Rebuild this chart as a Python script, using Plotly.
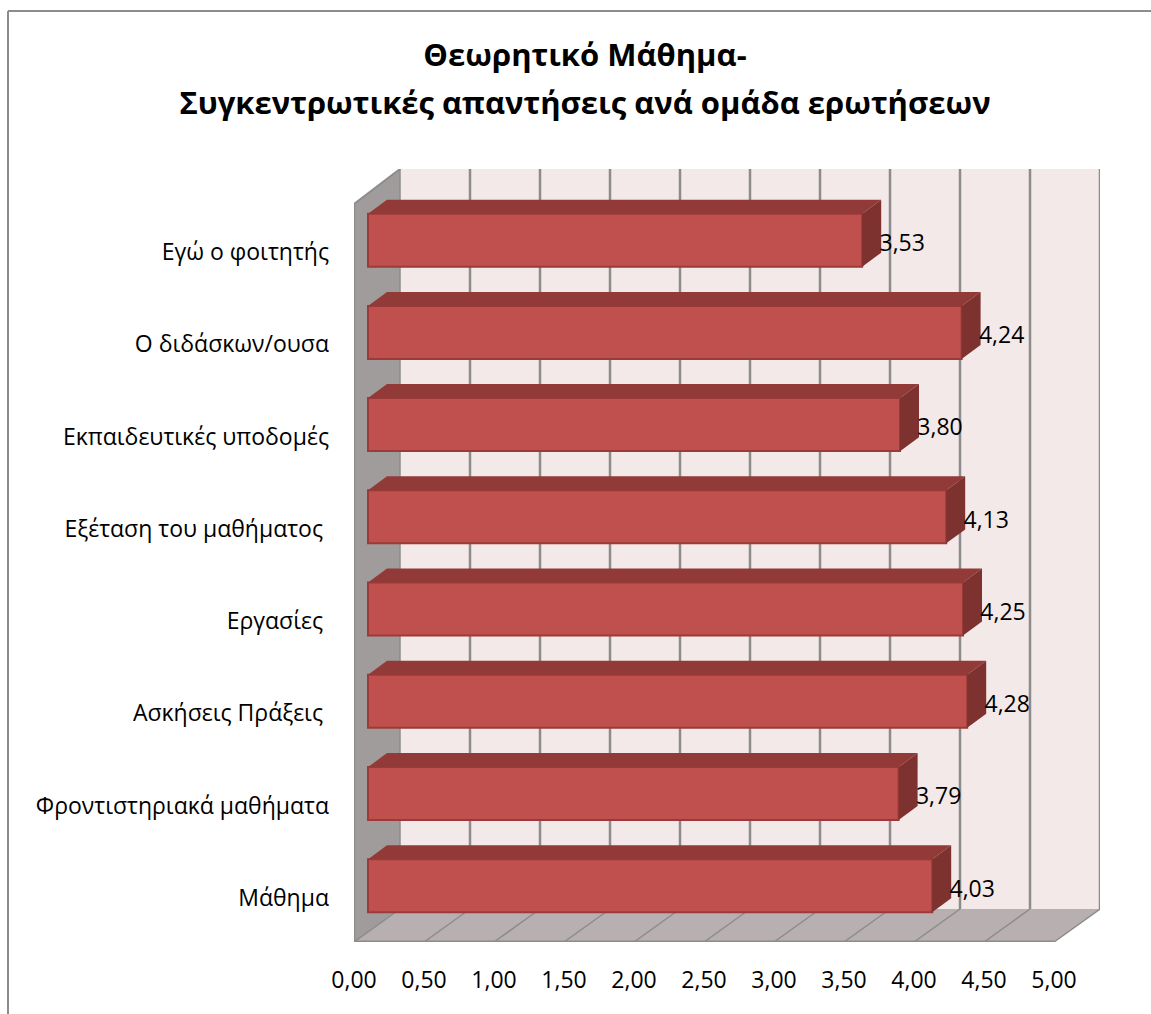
import plotly.graph_objects as go

categories = ["Μάθημα", "Φροντιστηριακά μαθήματα", "Ασκήσεις Πράξεις\u00a0", "Εργασίες\u00a0",
              "Εξέταση του μαθήματος\u00a0", "Εκπαιδευτικές υποδομές", "Ο διδάσκων/ουσα", "Εγώ ο φοιτητής"]
values = [4.03, 3.79, 4.28, 4.25, 4.13, 3.80, 4.24, 3.53]
x_ticks = [0, 0.5, 1, 1.5, 2, 2.5, 3, 3.5, 4, 4.5, 5]
title_lines = ["Θεωρητικό Μάθημα-", "Συγκεντρωτικές απαντήσεις ανά ομάδα ερωτήσεων"]

FONT = "'Open Sans', sans-serif"
TITLE_SIZE = 31
TEXT_SIZE = 23
W, H = 1151, 1014
PX_X = 140.0            # pixels per x unit
PX_Y = 92.25            # pixels per category
WALL_DX, WALL_TOP, FLOOR_DY = 46 / PX_X, 35 / PX_Y, 33 / PX_Y   # depth of the box in data units
BAR_BASE, BAR_SHIFT = 14 / PX_X, 10 / PX_Y  # bar's distance from the front plane
BAR_DX, BAR_DY = 19 / PX_X, 14 / PX_Y       # bar depth
BAR_W = 53 / PX_Y
LABEL_DX = 40 / PX_X
LABEL_DY = -5 / PX_Y
TICK_DY = -2 / PX_Y

idx = list(range(len(categories)))
y0, y1 = -0.5, 7.5
xmax = 5 + WALL_DX
ytop = y1 + WALL_TOP

GRID = "#8c8c8c"
BACK = "#f4e9e9"
SIDE = "#a09c9c"
FLOOR = "#b8b0b0"
FRONT = "#c0504d"
TOP = "#923a38"
RIGHT = "#7e3230"
EDGE = "#9b3b39"


def poly(xs, ys, fill):
    path = "M " + " L ".join(f"{a},{b}" for a, b in zip(xs, ys)) + " Z"
    return dict(type="path", path=path, xref="x", yref="y", fillcolor=fill,
                line=dict(width=0), layer="below")


def line(x_a, y_a, x_b, y_b, width=2, color=GRID):
    return dict(type="line", x0=x_a, y0=y_a, x1=x_b, y1=y_b, xref="x", yref="y",
                line=dict(color=color, width=width), layer="below")


shapes = [
    poly([WALL_DX, xmax, xmax, WALL_DX], [y0 + FLOOR_DY, y0 + FLOOR_DY, ytop, ytop], BACK),
    poly([0, WALL_DX, WALL_DX, 0], [y1, ytop, y0 + FLOOR_DY, y0], SIDE),
    poly([0, 5, xmax, WALL_DX], [y0, y0, y0 + FLOOR_DY, y0 + FLOOR_DY], FLOOR),
]
for t in x_ticks:
    shapes.append(line(t + WALL_DX, y0 + FLOOR_DY, t + WALL_DX, ytop, 2.5 if t else 1.5))
    shapes.append(line(t, y0, t + WALL_DX, y0 + FLOOR_DY, 1.5))
shapes += [
    line(0, y0, 0, y1, 2.5),
    line(0, y1, WALL_DX, ytop, 2),
    line(0, y0, 5, y0, 3),
]
# chart-area border
for a, b, c, d in [(8, 11, W, 11), (8, 11, 8, H)]:
    shapes.append(dict(type="line", xref="paper", yref="paper",
                       x0=(a - 354) / 746, x1=(c - 354) / 746,
                       y0=(942 - b) / 773, y1=(942 - d) / 773,
                       line=dict(color="#8c8c8c", width=2), layer="below"))

fig = go.Figure()
fig.add_trace(go.Bar(
    x=values, y=idx, base=BAR_BASE, orientation="h", width=BAR_W, offset=-BAR_W / 2 + BAR_SHIFT,
    marker=dict(color=FRONT, line=dict(color=EDGE, width=2)), showlegend=False, hoverinfo="skip"))

for v, i in zip(values, idx):
    xl, xr = BAR_BASE, BAR_BASE + v
    yb, yt = i + BAR_SHIFT - BAR_W / 2, i + BAR_SHIFT + BAR_W / 2
    fig.add_trace(go.Scatter(
        x=[xl, xr, xr + BAR_DX, xl + BAR_DX, xl], y=[yt, yt, yt + BAR_DY, yt + BAR_DY, yt],
        mode="lines", fill="toself", fillcolor=TOP, line=dict(width=0),
        showlegend=False, hoverinfo="skip"))
    fig.add_trace(go.Scatter(
        x=[xr, xr + BAR_DX, xr + BAR_DX, xr, xr], y=[yt, yt + BAR_DY, yb + BAR_DY, yb, yt],
        mode="lines", fill="toself", fillcolor=RIGHT, line=dict(width=0),
        showlegend=False, hoverinfo="skip"))

fig.add_trace(go.Scatter(
    x=[BAR_BASE + v + LABEL_DX for v in values], y=[i + BAR_SHIFT + LABEL_DY for i in idx],
    mode="text", customdata=values, texttemplate="%{customdata:.2f}", textposition="middle center",
    textfont=dict(family=FONT, size=TEXT_SIZE, color="#000000"), showlegend=False, hoverinfo="skip", cliponaxis=False))

title_text = "<br>".join(f'<span style="font-size:{TITLE_SIZE}px">{t}</span>' for t in title_lines)

fig.update_layout(
    width=W, height=H, autosize=False,
    margin=dict(l=354, r=W - 1100, t=169, b=H - 942, pad=0),
    paper_bgcolor="#ffffff", plot_bgcolor="rgba(0,0,0,0)",
    separators=",.",
    font=dict(family=FONT, size=TEXT_SIZE, color="#000000"),
    title=dict(text=title_text, x=585 / W, xanchor="center", y=1 - 66 / H, yanchor="top",
               font=dict(family=FONT, size=37, color="#000000", weight="bold")),
    xaxis=dict(range=[0, xmax], tickmode="array", tickvals=x_ticks, tickformat=".2f",
               showgrid=False, zeroline=False, showline=False, ticks="", ticklabelstandoff=22,
               tickfont=dict(family=FONT, size=TEXT_SIZE)),
    yaxis=dict(range=[y0, ytop], tickmode="array", tickvals=[i + TICK_DY for i in idx], ticktext=categories,
               showgrid=False, zeroline=False, showline=False, ticks="", ticklabelstandoff=24,
               tickfont=dict(family=FONT, size=TEXT_SIZE)),
    shapes=shapes,
)

fig.write_html("out.html", config={"displayModeBar": False},
               post_script="document.body.style.margin='0';document.body.style.overflow='hidden';")
